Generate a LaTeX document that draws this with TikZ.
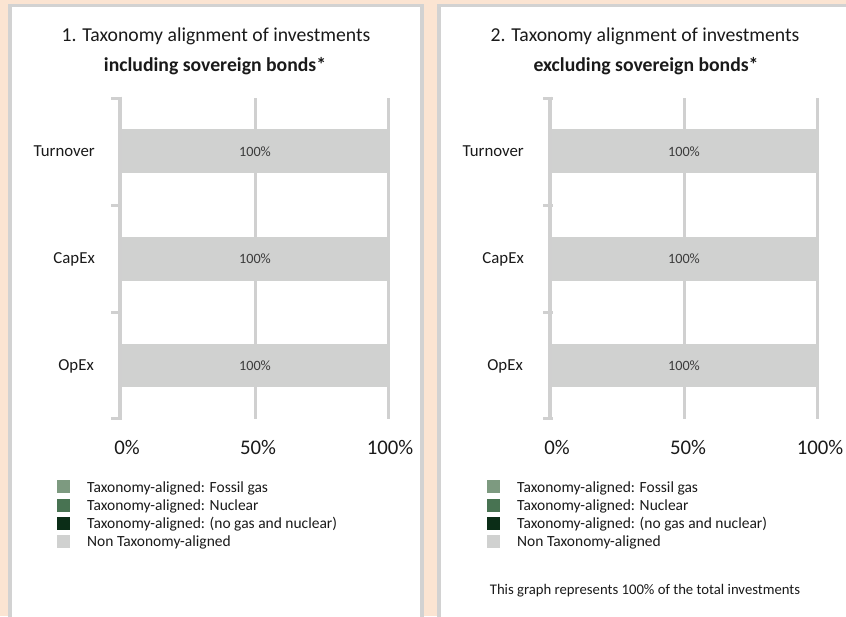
\documentclass[tikz,border=0pt]{standalone}
\usepackage{fontspec}
\setmainfont{Carlito}
\definecolor{peach}{HTML}{FBE4D2}
\definecolor{panelgrey}{HTML}{D2D2D2}
\definecolor{axisgrey}{HTML}{D0D0D0}
\definecolor{bargrey}{HTML}{D0D1D0}
\definecolor{gasgreen}{HTML}{7D9A80}
\definecolor{nucgreen}{HTML}{487352}
\definecolor{darkgreen}{HTML}{0B2D17}
\definecolor{txt}{HTML}{1A1A1A}
\tikzset{
  panel/.style={draw=panelgrey, line width=3.5pt, fill=white},
  axisline/.style={draw=axisgrey, line width=3.6pt},
  gridline/.style={draw=axisgrey, line width=3pt},
  tickline/.style={draw=axisgrey, line width=3pt},
  bar/.style={fill=bargrey, draw=none},
  titletext/.style={font=\fontsize{19.7}{22}\selectfont, text=txt, inner sep=0pt},
  cattext/.style={font=\fontsize{16.8}{19}\selectfont, text=txt, anchor=east, inner sep=0pt},
  axtext/.style={font=\fontsize{20.8}{23}\selectfont, text=txt, inner sep=0pt},
  bartext/.style={font=\fontsize{14.2}{16}\selectfont, text=txt!85, inner sep=0pt},
  legtext/.style={font=\fontsize{15.5}{18}\selectfont, text=txt, anchor=west, inner sep=0pt},
  legbox/.style={minimum size=13pt, inner sep=0pt, draw=none},
  notetext/.style={font=\fontsize{14.7}{17}\selectfont, text=txt, inner sep=0pt}
}
\begin{document}
\begin{tikzpicture}[x=1pt,y=-1pt]
\useasboundingbox (0,0) rectangle (846,616);
\clip (0,0) rectangle (846,616);
\fill[peach] (0,0) rectangle (846,616);
% panels
\draw[panel] (10,5.5) rectangle (422,640);
\draw[panel] (439,5.5) rectangle (870,640);

% ---------- left chart ----------
\node[titletext] (t1a) at (216,36) {1. Taxonomy alignment of investments};
\node[titletext] (t1b) at (215,66) {\bfseries including sovereign bonds*};
\draw[gridline] (255,98) -- (255,419);
\draw[gridline] (388.5,98) -- (388.5,419);
\fill[bar] (120,129) rectangle (390,173);
\fill[bar] (120,237) rectangle (390,281);
\fill[bar] (120,344) rectangle (390,387);
\draw[axisline] (120,96.5) -- (120,420);
\foreach \yy in {98,205,312,418} \draw[tickline] (111,\yy) -- (120,\yy);
\node[bartext] (l1) at (255,152) {100\%};
\node[bartext] (l2) at (255,259) {100\%};
\node[bartext] (l3) at (255,366) {100\%};
\node[cattext] (c1) at (95,151) {Turnover};
\node[cattext] (c2) at (95,259) {CapEx};
\node[cattext] (c3) at (94,366) {OpEx};
\node[axtext] (x1) at (127,447) {0\%};
\node[axtext] (x2) at (258,447) {50\%};
\node[axtext] (x3) at (390,447) {100\%};
\node[legbox, fill=gasgreen] (k1) at (63.5,486) {};
\node[legbox, fill=nucgreen] (k2) at (63.5,505) {};
\node[legbox, fill=darkgreen] (k3) at (63.5,523) {};
\node[legbox, fill=bargrey] (k4) at (63.5,541.5) {};
\node[legtext] (g1) at (87,488) {Taxonomy-aligned: Fossil gas};
\node[legtext] (g2) at (87,506) {Taxonomy-aligned: Nuclear};
\node[legtext] (g3) at (87,524) {Taxonomy-aligned: (no gas and nuclear)};
\node[legtext] (g4) at (87,542) {Non Taxonomy-aligned};

% ---------- right chart ----------
\node[titletext] (t2a) at (645,36) {2. Taxonomy alignment of investments};
\node[titletext] (t2b) at (646,66) {\bfseries excluding sovereign bonds*};
\draw[gridline] (684,98) -- (684,419);
\draw[gridline] (817.5,98) -- (817.5,419);
\fill[bar] (550,129) rectangle (819,173);
\fill[bar] (550,237) rectangle (819,281);
\fill[bar] (550,344) rectangle (819,387);
\draw[axisline] (550,96.5) -- (550,420);
\foreach \yy in {98,205,312,418} \draw[tickline] (543,\yy) -- (553,\yy);
\node[bartext] (r1) at (684,152) {100\%};
\node[bartext] (r2) at (684,259) {100\%};
\node[bartext] (r3) at (684,366) {100\%};
\node[cattext] (d1) at (524,151) {Turnover};
\node[cattext] (d2) at (524,259) {CapEx};
\node[cattext] (d3) at (523,366) {OpEx};
\node[axtext] (y1) at (557,447) {0\%};
\node[axtext] (y2) at (688,447) {50\%};
\node[axtext] (y3) at (820,447) {100\%};
\node[legbox, fill=gasgreen] (m1) at (493.5,486) {};
\node[legbox, fill=nucgreen] (m2) at (493.5,505) {};
\node[legbox, fill=darkgreen] (m3) at (493.5,523) {};
\node[legbox, fill=bargrey] (m4) at (493.5,541.5) {};
\node[legtext] (h1) at (517,488) {Taxonomy-aligned: Fossil gas};
\node[legtext] (h2) at (517,506) {Taxonomy-aligned: Nuclear};
\node[legtext] (h3) at (517,524) {Taxonomy-aligned: (no gas and nuclear)};
\node[legtext] (h4) at (517,542) {Non Taxonomy-aligned};
\node[notetext] (note) at (645,591) {This graph represents 100\% of the total investments};
\end{tikzpicture}
\end{document}
